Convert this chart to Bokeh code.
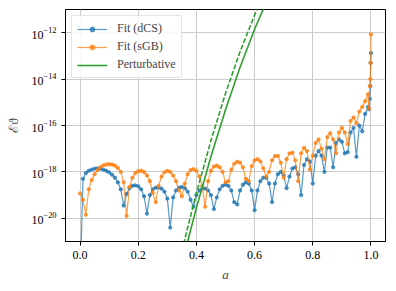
from bokeh.plotting import figure
from bokeh.models import Range1d, FixedTicker, CustomJSTickFormatter, LogTickFormatter, Legend, LegendItem
from bokeh.embed import file_html
from bokeh.resources import INLINE

# ---- data (log10 of the quantity) ----
a_fit = [0.00, 0.01, 0.02, 0.03, 0.04, 0.05, 0.06, 0.07, 0.08, 0.09,
         0.10, 0.11, 0.12, 0.13, 0.14, 0.15, 0.16, 0.17, 0.18, 0.19,
         0.20, 0.21, 0.22, 0.23, 0.24, 0.25, 0.26, 0.27, 0.28, 0.29,
         0.30, 0.31, 0.32, 0.33, 0.34, 0.35, 0.36, 0.37, 0.38, 0.39,
         0.40, 0.41, 0.42, 0.43, 0.44, 0.45, 0.46, 0.47, 0.48, 0.49,
         0.50, 0.51, 0.52, 0.53, 0.54, 0.55, 0.56, 0.57, 0.58, 0.59,
         0.60, 0.61, 0.62, 0.63, 0.64, 0.65, 0.66, 0.67, 0.68, 0.69,
         0.70, 0.71, 0.72, 0.73, 0.74, 0.75, 0.76, 0.77, 0.78, 0.79,
         0.80, 0.81, 0.82, 0.83, 0.84, 0.85, 0.86, 0.87, 0.88, 0.89,
         0.90, 0.91, 0.92, 0.93, 0.94, 0.95, 0.96, 0.97, 0.98, 0.99,
         0.993, 0.996, 0.998, 0.999, 1.000]

log_dcs = [-23.0, -18.30, -18.05, -17.95, -17.90, -17.86, -17.85, -17.86, -17.90, -17.95,
           -18.02, -18.12, -18.25, -18.45, -18.75, -19.45, -18.95, -18.70, -18.60, -18.58,
           -18.62, -18.75, -19.05, -19.80, -19.00, -18.75, -18.68, -18.67, -18.72, -18.85,
           -19.15, -20.40, -19.10, -18.80, -18.68, -18.65, -18.70, -18.85, -19.20, -19.50,
           -19.00, -18.80, -18.72, -18.72, -18.80, -19.00, -19.60, -19.10, -18.75, -18.60,
           -18.55, -18.60, -18.80, -19.30, -19.40, -18.80, -18.55, -18.45, -18.50, -18.80,
           -19.65, -18.80, -18.40, -18.25, -18.25, -18.50, -19.30, -18.50, -18.10, -18.00,
           -18.15, -18.70, -18.20, -17.85, -17.80, -18.10, -19.00, -17.70, -17.45, -17.55,
           -18.50, -17.30, -17.10, -17.30, -18.00, -16.95, -16.95, -17.80, -16.75, -16.60,
           -16.70, -17.20, -17.15, -16.30, -16.10, -17.35, -16.00, -16.25, -15.50, -15.20,
           -15.30, -14.85, -14.30, -13.30, -12.87]

log_sgb = [-18.93, -19.20, -19.85, -18.75, -18.35, -18.10, -17.92, -17.80, -17.72, -17.68,
           -17.67, -17.68, -17.73, -17.83, -18.00, -18.45, -19.90, -18.65, -18.25, -18.05,
           -17.97, -17.95, -18.00, -18.15, -18.40, -18.90, -19.30, -18.60, -18.20, -18.02,
           -17.95, -18.00, -18.15, -18.40, -18.80, -19.05, -18.50, -18.10, -17.92, -17.88,
           -17.95, -18.20, -18.60, -19.50, -18.40, -17.95, -17.77, -17.73, -17.80, -18.00,
           -18.45, -18.40, -17.90, -17.65, -17.56, -17.60, -17.80, -18.30, -18.40, -17.75,
           -17.50, -17.45, -17.55, -17.85, -18.20, -18.00, -17.50, -17.32, -17.31, -17.60,
           -18.25, -17.45, -17.20, -17.17, -17.50, -18.40, -17.20, -16.96, -17.10, -17.90,
           -17.30, -16.75, -16.60, -17.00, -17.45, -16.50, -16.33, -16.60, -17.20, -16.30,
           -16.10, -16.30, -16.80, -15.80, -15.65, -15.90, -15.40, -15.20, -14.95, -14.65,
           -15.27, -14.30, -14.00, -13.30, -12.07]

a_pert = [0.35, 0.40, 0.45, 0.50, 0.55, 0.60, 0.65]
log_pert = [-21.95, -19.55, -17.34, -15.32, -13.49, -11.85, -10.40]
log_pert_dashed = [-21.40, -18.91, -16.65, -14.62, -12.82, -11.24, -9.90]

x_ticks = [0.0, 0.2, 0.4, 0.6, 0.8, 1.0]
y_ticks = [1e-20, 1e-18, 1e-16, 1e-14, 1e-12]

y_dcs = [10.0 ** v for v in log_dcs]
y_sgb = [10.0 ** v for v in log_sgb]
y_pert = [10.0 ** v for v in log_pert]
y_pert_d = [10.0 ** v for v in log_pert_dashed]

BLUE = "#1f77b4"
ORANGE = "#ff7f0e"
GREEN = "#2ca02c"
FONT = "Liberation Serif"

p = figure(width=390, height=284, output_backend="svg", toolbar_location=None,
           y_axis_type="log",
           x_range=Range1d(-0.05, 1.05), y_range=Range1d(1e-21, 1e-11),
           min_border_left=65, min_border_right=5, min_border_top=9, min_border_bottom=39)

p.outline_line_color = "black"
p.outline_line_width = 1
p.background_fill_color = "white"
p.border_fill_color = "white"

r_b_line = p.line(a_fit, y_dcs, line_color=BLUE, line_width=1.2, line_alpha=0.75)
r_b_pts = p.scatter(a_fit, y_dcs, size=3.3, fill_color=BLUE, line_color=BLUE, alpha=0.75)
r_o_line = p.line(a_fit, y_sgb, line_color=ORANGE, line_width=1.2, line_alpha=0.75)
r_o_pts = p.scatter(a_fit, y_sgb, size=3.3, fill_color=ORANGE, line_color=ORANGE, alpha=0.75)
r_g = p.line(a_pert, y_pert, line_color=GREEN, line_width=1.6)
r_gd = p.line(a_pert, y_pert_d, line_color=GREEN, line_width=1.6, line_dash="5 2")

# axes
p.xaxis.ticker = FixedTicker(ticks=x_ticks)
p.xaxis.formatter = CustomJSTickFormatter(code="return tick.toFixed(1);")
p.yaxis.ticker = FixedTicker(ticks=y_ticks, minor_ticks=[])
p.yaxis.formatter = LogTickFormatter()
for ax in (p.xaxis[0], p.yaxis[0]):
    ax.major_label_text_font = FONT
    ax.major_label_text_font_size = "12px"
    ax.major_label_text_color = "black"
    ax.axis_label_text_font = FONT
    ax.axis_label_text_font_size = "13px"
    ax.axis_line_color = "black"
    ax.major_tick_line_color = "black"
    ax.major_tick_out = 4
    ax.major_tick_in = 0
    ax.minor_tick_line_color = None
p.xaxis.axis_label = "a"
p.xaxis.axis_label_text_font_style = "italic"
p.yaxis.axis_label = "ℰϑ"
p.yaxis.axis_label_text_font_style = "normal"
p.xaxis.axis_label_standoff = 5
p.yaxis.axis_label_standoff = 7

p.xgrid.grid_line_color = "#cccccc"
p.ygrid.grid_line_color = "#cccccc"
p.xgrid.ticker = FixedTicker(ticks=x_ticks)
p.ygrid.ticker = FixedTicker(ticks=y_ticks)

legend = Legend(items=[
    LegendItem(label="Fit (dCS)", renderers=[r_b_line, r_b_pts]),
    LegendItem(label="Fit (sGB)", renderers=[r_o_line, r_o_pts]),
    LegendItem(label="Perturbative", renderers=[r_g]),
], location="top_left")
legend.label_text_font = FONT
legend.label_text_font_size = "12px"
legend.border_line_color = "#cccccc"
legend.background_fill_alpha = 0.85
legend.glyph_width = 30
legend.glyph_height = 12
legend.spacing = 3
legend.padding = 5
legend.margin = 6
legend.label_standoff = 10
legend.label_height = 14
p.add_layout(legend)

open("out.html", "w").write(file_html(p, INLINE))
